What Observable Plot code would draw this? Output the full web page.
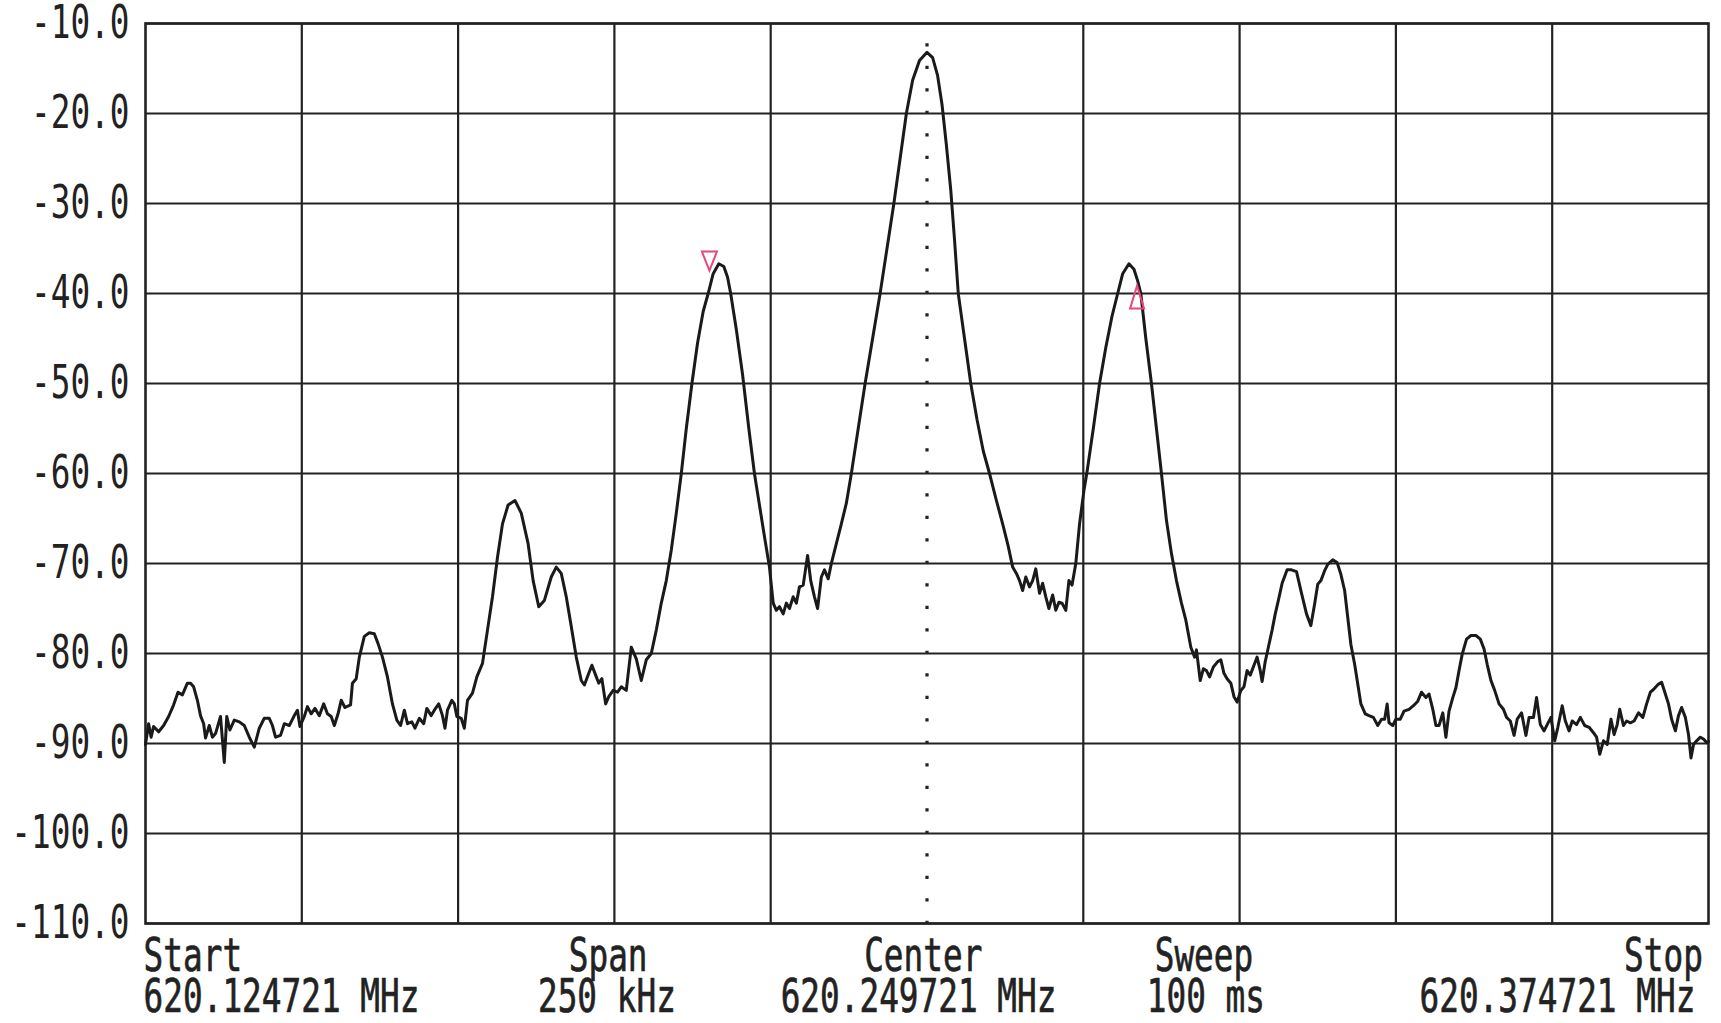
<!DOCTYPE html>
<html><head><meta charset="utf-8">
<script src="https://cdn.jsdelivr.net/npm/d3@7"></script>
<script src="https://cdn.jsdelivr.net/npm/@observablehq/plot@0.6"></script>
<style>html,body{margin:0;padding:0;background:#fff;}#chart{width:1721px;height:1023px;overflow:hidden;}</style>
</head><body><div id="chart"></div>
<script>
// Frequency offset from the 620.249721 MHz centre, in kHz
const freqKHz = [
-125.0,-124.5,-124.1,-123.7,-122.9,-122.1,-121.3,-120.5,-119.8,-119.1,-118.3,-117.8,-117.3,-116.7,-116.2,-115.7,-115.4,-114.8,-114.3,-113.8,
-113.0,-112.4,-112.0,-111.5,-110.8,-110.0,-109.2,-108.4,-107.6,-106.8,-106.0,-105.2,-104.7,-104.2,-103.4,-102.8,-102.0,-101.2,-100.7,-100.3,
-99.6,-99.1,-98.5,-97.9,-97.2,-96.5,-95.9,-95.3,-94.8,-94.2,-93.7,-93.1,-92.2,-91.9,-91.3,-90.8,-90.0,-89.2,-88.4,-87.8,
-87.1,-86.3,-85.5,-84.8,-84.2,-83.6,-83.1,-82.4,-81.9,-81.2,-80.5,-80.0,-79.3,-78.8,-78.1,-77.5,-77.1,-76.7,-76.0,-75.6,
-75.2,-74.5,-74.0,-73.5,-72.7,-72.0,-71.1,-70.3,-69.5,-68.7,-67.9,-67.0,-65.9,-64.9,-63.8,-63.0,-62.1,-61.2,-60.1,-59.3,
-58.5,-57.7,-56.9,-56.1,-55.3,-54.8,-54.1,-53.6,-53.0,-52.5,-52.0,-51.4,-50.9,-50.2,-49.5,-48.9,-48.1,-47.3,-46.5,-45.7,
-44.9,-44.1,-43.3,-42.5,-41.7,-40.9,-40.1,-39.3,-38.5,-37.6,-36.7,-35.8,-35.0,-34.2,-33.3,-32.5,-31.9,-31.4,-30.5,-29.5,
-28.5,-27.6,-26.0,-25.2,-24.6,-24.1,-23.6,-23.0,-22.5,-22.0,-21.4,-20.9,-20.4,-19.8,-19.1,-18.6,-18.0,-17.5,-16.9,-16.4,
-15.8,-15.3,-14.5,-13.7,-12.9,-12.1,-11.0,-9.9,-8.7,-7.5,-6.4,-5.3,-4.3,-3.3,-2.3,-1.2,0.0,0.9,1.7,2.4,
3.1,3.8,4.4,5.0,6.0,7.0,8.0,9.0,10.0,11.1,12.1,13.0,13.7,14.3,14.8,15.3,15.8,16.4,16.9,17.4,
18.0,18.5,19.0,19.5,20.1,20.6,21.1,21.6,22.2,22.7,23.2,23.8,24.4,25.1,25.6,26.6,27.6,28.6,29.6,30.5,
31.3,32.3,33.1,33.7,34.2,35.0,35.9,36.7,37.5,38.3,39.1,39.9,40.7,41.4,42.2,42.8,43.1,43.7,44.2,44.7,
45.2,45.8,46.5,47.0,47.5,48.0,48.6,49.1,49.6,50.2,50.7,51.2,51.7,52.3,52.8,53.3,53.6,54.1,54.6,55.2,
55.7,56.2,56.8,57.6,58.3,59.1,59.9,60.7,61.4,62.0,62.5,63.0,63.6,64.1,64.9,65.6,66.2,66.8,67.3,67.8,
68.4,68.9,69.4,70.1,70.7,71.4,72.1,72.7,73.2,73.6,73.9,74.5,75.0,75.7,76.3,77.1,77.8,78.5,79.1,79.8,
80.3,80.9,81.4,81.9,82.5,83.0,83.5,84.1,84.6,85.1,85.6,86.3,87.0,87.8,88.5,89.1,89.6,90.2,90.8,91.5,
92.2,92.7,93.3,93.9,94.4,95.1,95.8,96.3,97.0,97.5,98.1,98.7,99.2,99.8,100.4,100.9,101.6,102.1,102.7,103.2,
103.9,104.5,105.2,105.9,106.6,107.1,107.6,108.2,108.8,109.4,109.9,110.4,110.8,111.4,111.9,112.5,113.1,113.8,114.5,115.1,
115.7,116.2,117.0,117.5,118.1,118.6,119.1,119.7,120.2,120.7,121.3,121.8,122.2,122.6,123.1,123.7,124.2,124.7,125.0
];
// Measured level, dBm
const levelDbm = [
-90.1,-87.8,-89.3,-88.1,-88.7,-88.0,-87.0,-85.7,-84.3,-84.6,-83.3,-83.3,-83.7,-85.2,-86.9,-87.8,-89.4,-88.0,-89.3,-88.9,
-87.0,-92.1,-87.0,-88.5,-87.4,-87.6,-88.0,-89.3,-90.4,-88.3,-87.2,-87.2,-88.0,-89.3,-89.1,-87.8,-88.0,-86.9,-86.3,-88.1,
-87.0,-85.9,-86.7,-86.1,-86.9,-85.6,-86.7,-87.0,-88.0,-86.7,-85.2,-86.0,-85.7,-83.3,-82.8,-80.4,-78.1,-77.7,-77.8,-78.9,
-80.4,-82.6,-85.6,-87.4,-88.0,-86.3,-87.8,-87.6,-88.3,-87.2,-87.8,-86.1,-86.9,-86.3,-85.6,-86.9,-88.3,-86.3,-85.2,-85.6,
-87.0,-87.2,-88.3,-85.2,-84.4,-82.6,-81.1,-77.4,-73.7,-69.3,-65.6,-63.5,-63.0,-64.4,-67.8,-71.9,-74.8,-74.1,-71.5,-70.4,
-71.1,-73.7,-77.0,-80.4,-83.0,-83.5,-82.2,-81.3,-82.4,-83.3,-82.8,-85.6,-84.8,-84.1,-84.3,-83.7,-84.1,-79.3,-80.6,-83.0,
-80.7,-80.0,-77.4,-74.4,-71.9,-68.5,-64.4,-60.0,-55.0,-50.0,-45.5,-42.0,-40.0,-37.8,-36.7,-37.0,-38.2,-40.0,-44.0,-49.0,
-55.0,-60.0,-67.0,-70.4,-74.4,-75.2,-74.8,-75.6,-74.4,-75.0,-73.7,-74.4,-72.6,-72.4,-69.1,-71.9,-73.7,-75.0,-71.5,-70.7,
-71.7,-70.0,-67.8,-65.6,-63.3,-60.0,-55.0,-50.0,-45.0,-40.0,-35.0,-30.0,-25.0,-20.0,-16.3,-14.1,-13.2,-13.8,-15.8,-19.0,
-23.5,-28.5,-34.0,-40.0,-45.0,-50.0,-54.0,-57.5,-60.0,-63.0,-65.6,-68.1,-70.4,-71.1,-71.9,-73.0,-71.5,-72.6,-71.9,-70.6,
-73.3,-72.2,-73.7,-75.0,-73.5,-75.2,-74.3,-74.4,-75.2,-71.9,-72.4,-70.0,-65.6,-61.9,-59.8,-55.0,-50.0,-46.0,-42.5,-40.0,
-37.8,-36.7,-37.3,-38.6,-40.0,-45.0,-50.0,-55.0,-60.0,-65.2,-68.9,-71.9,-74.4,-76.3,-79.3,-80.4,-79.6,-83.0,-81.7,-81.9,
-82.6,-81.5,-80.9,-80.7,-82.2,-82.8,-83.3,-84.8,-85.4,-84.1,-83.7,-81.9,-82.4,-81.3,-80.4,-81.9,-83.1,-80.9,-79.3,-77.4,
-75.6,-74.1,-72.2,-70.7,-70.7,-70.9,-73.3,-75.6,-76.9,-74.5,-72.3,-71.9,-70.8,-70.1,-69.6,-69.9,-71.2,-73.0,-76.0,-79.0,
-81.2,-83.4,-85.6,-86.7,-86.9,-87.1,-88.0,-87.3,-87.3,-85.6,-87.7,-88.0,-87.3,-87.3,-86.4,-86.2,-85.8,-85.3,-84.3,-84.9,
-84.5,-86.2,-88.0,-88.0,-86.6,-89.3,-86.4,-84.9,-83.8,-81.9,-80.1,-78.4,-78.0,-78.0,-78.4,-79.5,-81.2,-83.0,-84.1,-85.6,
-86.2,-87.1,-87.5,-89.1,-87.3,-86.6,-89.1,-87.1,-87.1,-84.9,-87.9,-88.6,-87.9,-87.1,-89.7,-88.2,-85.8,-87.5,-88.6,-87.5,
-87.9,-87.1,-88.0,-88.2,-88.8,-89.3,-91.2,-89.7,-90.1,-87.3,-89.0,-87.9,-86.2,-88.0,-87.5,-87.7,-87.5,-86.6,-87.1,-85.6,
-84.3,-84.0,-83.4,-83.2,-84.5,-85.6,-87.3,-88.6,-86.9,-86.0,-87.1,-89.0,-91.6,-90.1,-89.7,-89.3,-89.5,-89.9,-89.8
];
const levelTicks = [-10, -20, -30, -40, -50, -60, -70, -80, -90, -100, -110];
const freqGrid = [-100, -75, -50, -25, 25, 50, 75, 100];
const centerFreq = [0];
const infoTitles = ["Start", "Span", "Center", "Sweep", "Stop"];
const infoValues = ["620.124721 MHz", "250 kHz", "620.249721 MHz", "100 ms", "620.374721 MHz"];
const markerFreq = [-34.8, 33.6];
const markerLevel = [-36.4, -40.4];
const markerKind = ["down", "up"];

// ---- layout (not data) ----
const INK = "#222";
const PINK = "#e8467c";
const FONT = "DejaVu Sans Mono";
const FS = 46;
const ADV = 19.7;
const titleLayout = [{x:-125.3,a:"start"},{x:-51.0,a:"middle"},{x:-0.6,a:"middle"},{x:44.3,a:"middle"},{x:124.1,a:"end"}];
const valueLayout = [{x:-125.3,a:"start"},{x:-51.2,a:"middle"},{x:-1.35,a:"middle"},{x:44.6,a:"middle"},{x:122.9,a:"end"}];

const trace = freqKHz.map((f, i) => ({f, db: levelDbm[i]}));
const markers = markerFreq.map((f, i) => ({f, db: markerLevel[i], kind: markerKind[i]}));

const triDown = {draw(ctx){ ctx.moveTo(-7.5,-9.5); ctx.lineTo(7.5,-9.5); ctx.lineTo(0,9.5); ctx.closePath(); }};
const triUp = {draw(ctx){ ctx.moveTo(0,-11.5); ctx.lineTo(7,11.5); ctx.lineTo(-7,11.5); ctx.closePath(); }};

const textStyle = {fontSize: FS, fill: INK, stroke: INK, strokeWidth: 0.7};
const labelMarks = [];
infoTitles.forEach((t, i) => {
  labelMarks.push(Plot.text([t], {x: () => titleLayout[i].x, y: () => -110, text: d => d, textAnchor: titleLayout[i].a, dy: 33, ...textStyle}));
  labelMarks.push(Plot.text([infoValues[i]], {x: () => valueLayout[i].x, y: () => -110, text: d => d, textAnchor: valueLayout[i].a, dy: 74, ...textStyle}));
});

const chart = Plot.plot({
  width: 1721, height: 1023,
  marginLeft: 145, marginRight: 13, marginTop: 23, marginBottom: 100,
  x: {domain: [-125, 125], axis: null, label: null},
  y: {domain: [-110, -10], axis: null, label: null},
  style: {fontFamily: FONT, background: "#fff", color: INK},
  marks: [
    Plot.ruleY(levelTicks, {stroke: INK, strokeWidth: 2.2}),
    Plot.ruleX(freqGrid, {stroke: INK, strokeWidth: 2.2}),
    Plot.ruleX(centerFreq, {y1: -10, y2: -110, stroke: INK, strokeWidth: 3.2, strokeDasharray: "3.2 19.3", strokeDashoffset: 2.3}),
    Plot.frame({stroke: INK, strokeWidth: 2.6}),
    Plot.line(trace, {x: "f", y: "db", stroke: "#1a1a1a", strokeWidth: 3, strokeLinejoin: "round"}),
    Plot.dot(markers.filter(d => d.kind === "down"), {x: "f", y: "db", symbol: triDown, stroke: PINK, fill: "none", strokeWidth: 2, r: 5}),
    Plot.dot(markers.filter(d => d.kind === "up"), {x: "f", y: "db", symbol: triUp, stroke: PINK, fill: "none", strokeWidth: 2, r: 5}),
    Plot.axisY(levelTicks, {label: null, tickSize: 0, tickPadding: 16, tickFormat: d => d.toFixed(1), ...textStyle}),
    ...labelMarks
  ]
});

chart.querySelectorAll("text").forEach(t => {
  const s = t.textContent;
  if (s && s.length) {
    t.setAttribute("textLength", (s.length * ADV).toFixed(1));
    t.setAttribute("lengthAdjust", "spacingAndGlyphs");
  }
});
document.getElementById("chart").appendChild(chart);
</script>
</body></html>
